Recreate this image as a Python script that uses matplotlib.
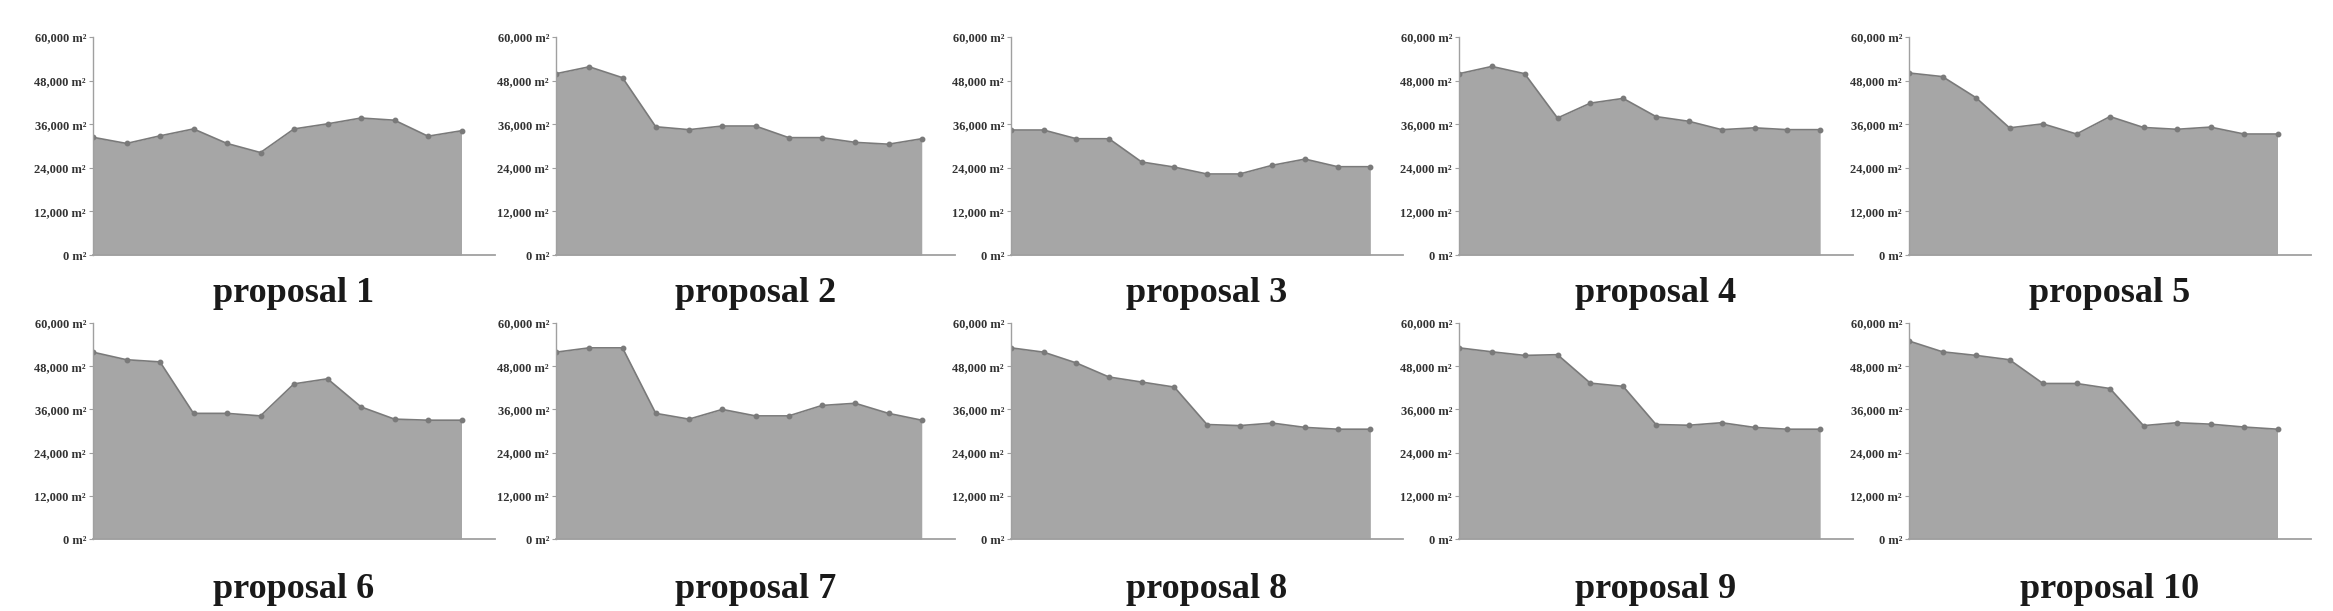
import matplotlib
matplotlib.use("Agg")
import matplotlib.pyplot as plt
from matplotlib.ticker import FuncFormatter

# --- data (m², 12 steps per proposal) ---
proposal_names = ["proposal 1", "proposal 2", "proposal 3", "proposal 4", "proposal 5",
                  "proposal 6", "proposal 7", "proposal 8", "proposal 9", "proposal 10"]

p1 = [32400, 30700, 32800, 34700, 30700, 28200, 34700, 36100, 37700, 37100, 32700, 34200]
p2 = [49900, 51800, 48800, 35300, 34500, 35500, 35500, 32300, 32300, 31000, 30500, 32000]
p3 = [34400, 34400, 32000, 32000, 25600, 24200, 22300, 22300, 24700, 26400, 24300, 24300]
p4 = [49900, 51900, 49900, 37700, 41800, 43100, 38100, 36800, 34500, 35000, 34500, 34500]
p5 = [50100, 49100, 43300, 35000, 36100, 33300, 38100, 35100, 34600, 35200, 33300, 33300]
p6 = [51900, 49800, 49200, 34900, 34900, 34200, 43100, 44500, 36700, 33300, 33000, 33000]
p7 = [51900, 53100, 53100, 34900, 33300, 36000, 34200, 34200, 37100, 37700, 34900, 33000]
p8 = [53100, 51900, 48900, 45000, 43600, 42200, 31800, 31500, 32200, 31000, 30500, 30500]
p9 = [53100, 52000, 51000, 51200, 43300, 42400, 31800, 31600, 32300, 31000, 30500, 30500]
p10 = [55000, 52000, 51000, 49800, 43200, 43200, 41800, 31500, 32300, 31900, 31100, 30500]

series = [p1, p2, p3, p4, p5, p6, p7, p8, p9, p10]
y_ticks = [0, 12000, 24000, 36000, 48000, 60000]

W, H = 2333, 611
fig = plt.figure(figsize=(W / 100, H / 100), dpi=100)
fig.patch.set_facecolor("white")

# pixel layout of the panels (left, width) per column, (top, bottom) per row
col_left = [93, 556, 1011, 1459, 1909]
col_width = [402, 399, 392, 394, 402]
row_top = [37, 323]
row_bottom = [255, 539]
title_base = [302, 598]

fmt = FuncFormatter(lambda v, pos: "0 m²" if v == 0 else f"{int(v):,} m²")

for i, vals in enumerate(series):
    r, c = divmod(i, 5)
    left = col_left[c] / W
    bottom = 1 - row_bottom[r] / H
    height = (row_bottom[r] - row_top[r]) / H
    ax = fig.add_axes([left, bottom, col_width[c] / W, height])

    x = list(range(len(vals)))
    ax.fill_between(x, vals, 0, color="#a6a6a6", linewidth=0)
    ax.plot(x, vals, color="#7a7a7a", linewidth=1.2, marker="o", markersize=3.2,
            markerfacecolor="#7a7a7a", markeredgecolor="#7a7a7a")

    ax.set_xlim(0, len(vals))
    ax.set_ylim(0, 60000)
    ax.set_yticks(y_ticks)
    ax.yaxis.set_major_formatter(fmt)
    ax.set_xticks([])
    for side in ("top", "right"):
        ax.spines[side].set_visible(False)
    ax.spines["left"].set_color("#a0a0a0")
    ax.spines["bottom"].set_color("#a0a0a0")
    ax.spines["left"].set_linewidth(1.0)
    ax.spines["bottom"].set_linewidth(1.3)
    ax.tick_params(axis="y", length=3, width=0.8, color="#a0a0a0", pad=2,
                   labelsize=9, labelcolor="#333333")
    for lab in ax.get_yticklabels():
        lab.set_fontfamily(["Liberation Serif", "DejaVu Serif"])
        lab.set_fontweight("bold")
    ax.set_facecolor("none")

    cx = (col_left[c] + col_width[c] / 2) / W
    fig.text(cx, 1 - title_base[r] / H, proposal_names[i], ha="center", va="baseline",
             fontsize=26, fontweight="bold", color="#1a1a1a",
             family=["Liberation Serif", "DejaVu Serif"])

fig.savefig("out.png", dpi=100, facecolor="white")
